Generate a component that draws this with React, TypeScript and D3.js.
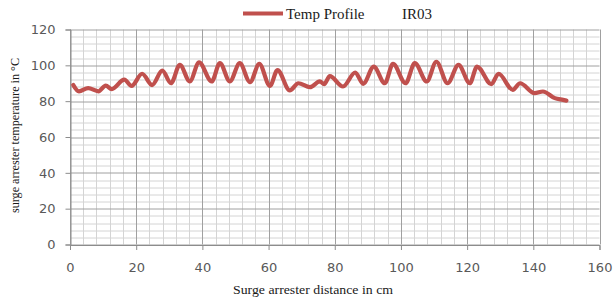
import { useRef, useEffect } from "react";
import * as d3 from "d3";

// distance (cm) at each read-off peak / trough
const distance = [
  1, 2.7, 5.5, 8.6, 10.8, 12.6, 16.4, 18.6, 21.8, 24.8, 27.9, 30.5, 33.2, 36.2, 39, 42.8, 45.3,
  48.3, 51.3, 54.4, 57.2, 60.4, 62.7, 66.4, 69, 72.5, 75.5, 76.8, 78.5, 82.5, 86.2, 88.6, 91.8,
  95.1, 97.6, 101.4, 104.2, 107.8, 110.7, 114.1, 117.4, 120.8, 123, 127.3, 129.5, 133.8, 136,
  140.4, 142.9, 146.5, 149, 150,
];
const temperature = [
  89, 85.5, 87.3, 85.5, 88.7, 86.7, 92, 88.5, 95.3, 89, 97, 90, 100.3, 91, 101.6, 91, 101.2,
  91, 101.2, 90.6, 100.8, 88.5, 97.3, 86, 90, 87.8, 91, 89.5, 94, 88.2, 96, 89.7, 99.3,
  90, 100.8, 90, 101.2, 91, 102, 90, 100.3, 90, 99.3, 89.5, 95.3, 86.3, 90, 84.5, 85.4, 81.7,
  80.7, 80.3,
];
const xTicks = [0, 20, 40, 60, 80, 100, 120, 140, 160];
const yTicks = [0, 20, 40, 60, 80, 100, 120];
const seriesName = "Temp Profile";
const extraLabel = "IR03";

const W = 614;
const H = 300;
const RED = "#c0504d";
const SERIF = "'Liberation Serif', 'Times New Roman', serif";

export default function App() {
  const svgRef = useRef<SVGSVGElement>(null);

  useEffect(() => {
    if (!svgRef.current) return;
    const svg = d3.select(svgRef.current);
    svg.selectAll("*").remove();

    const margin = { top: 29.5, right: 14.5, bottom: 55.5, left: 70 };
    const w = W - margin.left - margin.right;
    const h = H - margin.top - margin.bottom;

    const x = d3.scaleLinear().domain([0, 160]).range([0, w]);
    const y = d3.scaleLinear().domain([0, 120]).range([h, 0]);

    const g = svg.append("g").attr("transform", `translate(${margin.left},${margin.top})`);

    // minor grid, every 4 units
    const minor = d3.range(0, 161, 4).filter((v) => v % 20 !== 0);
    const minorY = d3.range(0, 121, 4).filter((v) => v % 20 !== 0);
    g.selectAll("line.mx")
      .data(minor)
      .join("line")
      .attr("x1", (d) => Math.round(x(d)) + 0.5).attr("x2", (d) => Math.round(x(d)) + 0.5)
      .attr("y1", 0).attr("y2", h)
      .attr("stroke", "#d4d4d4");
    g.selectAll("line.my")
      .data(minorY)
      .join("line")
      .attr("y1", (d) => Math.round(y(d)) + 0.5).attr("y2", (d) => Math.round(y(d)) + 0.5)
      .attr("x1", 0).attr("x2", w)
      .attr("stroke", "#d4d4d4");

    // major grid
    g.selectAll("line.Mx")
      .data(xTicks)
      .join("line")
      .attr("x1", (d) => Math.round(x(d)) + 0.5).attr("x2", (d) => Math.round(x(d)) + 0.5)
      .attr("y1", 0).attr("y2", h)
      .attr("stroke", "#a0a0a0");
    g.selectAll("line.My")
      .data(yTicks)
      .join("line")
      .attr("y1", (d) => Math.round(y(d)) + 0.5).attr("y2", (d) => Math.round(y(d)) + 0.5)
      .attr("x1", 0).attr("x2", w)
      .attr("stroke", "#a0a0a0");

    // Axes
    const xa = g.append("g")
      .attr("transform", `translate(0,${h + 0.5})`)
      .call(d3.axisBottom(x).tickValues(xTicks).tickSize(5).tickPadding(13));
    const ya = g.append("g")
      .attr("transform", "translate(0.5,0)")
      .call(d3.axisLeft(y).tickValues(yTicks).tickSize(5).tickPadding(10));
    [xa, ya].forEach((a) => {
      a.selectAll(".domain, .tick line").attr("stroke", "#8c8c8c");
      a.selectAll("text")
        .attr("fill", "#595959")
        .style("font-family", "'DejaVu Sans', Verdana, sans-serif")
        .style("font-size", "13px");
    });

    // line
    const line = d3.line<number>()
      .x((_, i) => x(distance[i]))
      .y((d) => y(d))
      .curve(d3.curveMonotoneX);
    g.append("path")
      .datum(temperature)
      .attr("d", line)
      .attr("fill", "none")
      .attr("stroke", RED)
      .attr("stroke-width", 4.2)
      .attr("stroke-linejoin", "round")
      .attr("stroke-linecap", "round");

    // legend
    svg.append("line")
      .attr("x1", 243).attr("x2", 283)
      .attr("y1", 13.5).attr("y2", 13.5)
      .attr("stroke", RED).attr("stroke-width", 4);
    svg.append("text")
      .attr("x", 286).attr("y", 18.5)
      .attr("fill", "#1a1a1a")
      .style("font-family", SERIF)
      .style("font-size", "15px")
      .text(seriesName);
    svg.append("text")
      .attr("x", 402).attr("y", 18.5)
      .attr("fill", "#1a1a1a")
      .style("font-family", SERIF)
      .style("font-size", "15px")
      .text(extraLabel);

    // axis titles
    svg.append("text")
      .attr("x", 233).attr("y", 294)
      .attr("textLength", 160)
      .attr("lengthAdjust", "spacingAndGlyphs")
      .attr("fill", "#1a1a1a")
      .style("font-family", SERIF)
      .style("font-size", "12px")
      .text("Surge  arrester distance in cm");
    svg.append("text")
      .attr("transform", "translate(19,213) rotate(-90)")
      .attr("textLength", 155)
      .attr("lengthAdjust", "spacingAndGlyphs")
      .attr("fill", "#1a1a1a")
      .style("font-family", SERIF)
      .style("font-size", "12px")
      .text("surge arrester temperature in °C");
  }, []);

  return (
    <svg
      ref={svgRef}
      width={W}
      height={H}
      style={{ position: "fixed", left: 0, top: 0, background: "#fff" }}
    />
  );
}
